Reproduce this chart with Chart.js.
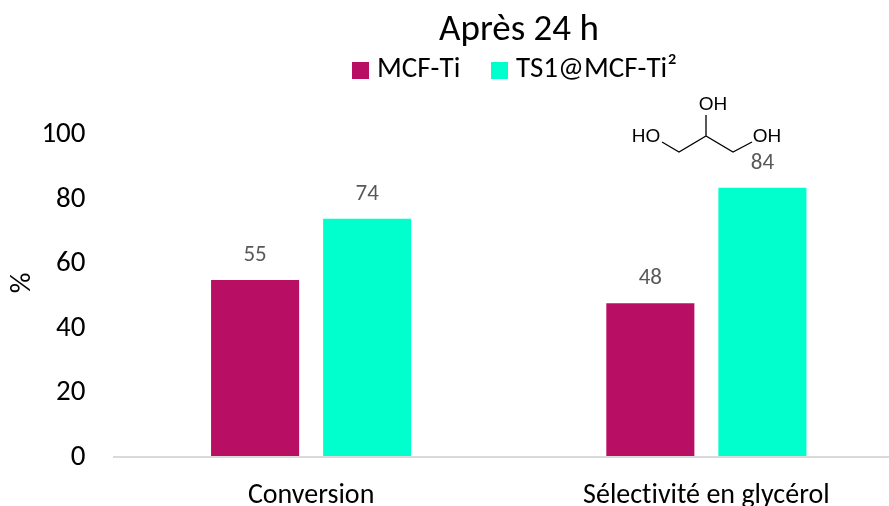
<!DOCTYPE html>
<html>
<head>
<meta charset="utf-8">
<style>
html, body { margin: 0; padding: 0; background: #fff; overflow: hidden; }
#wrap { position: relative; width: 889px; height: 506px; overflow: hidden; }
</style>
<script src="https://cdn.jsdelivr.net/npm/chart.js@4"></script>
</head>
<body>
<div id="wrap"><canvas id="chart" width="904" height="535"></canvas></div>
<script>
var categories = ['Conversion', 'Sélectivité en glycérol'];
var mcfTi = [55, 47.8];
var ts1 = [74, 83.6];
var yTicks = [0, 20, 40, 60, 80, 100];

var FONT = 'Carlito, "Open Sans", "Noto Sans", sans-serif';

/** Move the title over to where the reference has it */
var titleShift = {
    id: 'titleShift',
    afterLayout: function (chart) {
        chart.titleBlock.left += 67;
        chart.titleBlock.right += 67;
    },
    beforeDraw: function (chart) {
        // a tiny spacing switches off the "ti" ligature
        chart.ctx.letterSpacing = '0.01px';
    }
};

/** Labels above the bars */
var barLabels = {
    id: 'barLabels',
    afterDatasetsDraw: function (chart) {
        var ctx = chart.ctx;
        ctx.save();
        ctx.font = '23px ' + FONT;
        ctx.fillStyle = '#595959';
        ctx.textAlign = 'center';
        ctx.textBaseline = 'middle';
        chart.data.datasets.forEach(function (ds, i) {
            chart.getDatasetMeta(i).data.forEach(function (bar, j) {
                ctx.fillText(Math.round(ds.data[j]), bar.x, bar.y - 25);
            });
        });
        ctx.restore();
    }
};

/** Legend, the built-in one can't put the text this close to the box */
var topLegend = {
    id: 'topLegend',
    afterDraw: function (chart) {
        var ctx = chart.ctx;
        var boxX = [352, 491];
        ctx.save();
        ctx.font = '29px ' + FONT;
        ctx.textAlign = 'left';
        ctx.textBaseline = 'middle';
        chart.data.datasets.forEach(function (ds, i) {
            ctx.fillStyle = ds.backgroundColor;
            ctx.fillRect(boxX[i], 62, 17, 17);
            ctx.fillStyle = '#000';
            ctx.fillText(ds.label, boxX[i] + 25, 70);
        });
        ctx.restore();
    }
};

/** Axis name sits above the middle of the axis in the reference */
var yName = {
    id: 'yName',
    afterDraw: function (chart) {
        var ctx = chart.ctx;
        ctx.save();
        ctx.translate(23, 283);
        ctx.rotate(-Math.PI / 2);
        ctx.font = '29px ' + FONT;
        ctx.fillStyle = '#000';
        ctx.textAlign = 'center';
        ctx.textBaseline = 'middle';
        ctx.fillText('%', 0, 0);
        ctx.restore();
    }
};

/** Glycerol skeleton above the second group */
var molecule = {
    id: 'molecule',
    afterDraw: function (chart) {
        var ctx = chart.ctx;
        ctx.save();
        ctx.strokeStyle = '#000';
        ctx.lineWidth = 1.3;
        ctx.beginPath();
        ctx.moveTo(662, 142);
        ctx.lineTo(679, 152);
        ctx.lineTo(706, 136);
        ctx.lineTo(733, 152);
        ctx.lineTo(752, 142);
        ctx.moveTo(706, 136);
        ctx.lineTo(706, 115);
        ctx.stroke();
        ctx.fillStyle = '#000';
        ctx.font = '19px "Liberation Sans", Arial, sans-serif';
        ctx.textAlign = 'center';
        ctx.textBaseline = 'middle';
        ctx.fillText('OH', 713, 105);
        ctx.fillText('HO', 646, 137);
        ctx.fillText('OH', 767, 137);
        ctx.restore();
    }
};

new Chart(document.getElementById('chart').getContext('2d'), {
    type: 'bar',
    data: {
        labels: categories,
        datasets: [
            { label: 'MCF-Ti', data: mcfTi, backgroundColor: '#B80F64', categoryPercentage: 0.567, barPercentage: 0.786 },
            { label: 'TS1@MCF-Ti²', data: ts1, backgroundColor: '#00FFCC', categoryPercentage: 0.567, barPercentage: 0.786 }
        ]
    },
    options: {
        responsive: false,
        animation: false,
        layout: { padding: 0 },
        plugins: {
            title: {
                display: true,
                text: 'Après 24 h',
                color: '#000',
                font: { family: FONT, size: 37, weight: 'normal' },
                padding: { top: 9, bottom: 81.6 }
            },
            legend: { display: false },
            tooltip: { enabled: false }
        },
        scales: {
            x: {
                grid: { display: false, drawTicks: false },
                border: { color: '#D9D9D9', width: 2, z: 1 },
                ticks: { color: '#000', font: { family: FONT, size: 28 }, padding: 22, maxRotation: 0 }
            },
            y: {
                min: 0,
                max: 100,
                afterBuildTicks: function (axis) {
                    axis.ticks = yTicks.map(function (v) { return { value: v }; });
                },
                afterFit: function (axis) {
                    axis.width = 113.5;
                },
                grid: { display: false, drawTicks: false },
                border: { display: false },
                ticks: { color: '#000', font: { family: FONT, size: 29 }, padding: 28 }
            }
        }
    },
    plugins: [titleShift, barLabels, topLegend, yName, molecule]
});
</script>
</body>
</html>
